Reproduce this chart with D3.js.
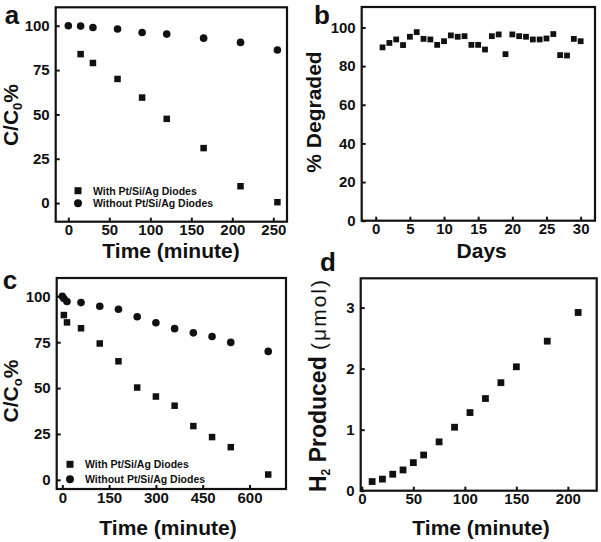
<!DOCTYPE html>
<html><head><meta charset="utf-8">
<script src="https://cdn.jsdelivr.net/npm/d3@7"></script>
<style>body{margin:0;background:#fff}svg{display:block}text{font-family:"Liberation Sans",Arial,sans-serif;font-weight:bold;fill:#111}</style>
</head><body><svg id="c" width="601" height="542"></svg>
<script>
// Panel a
const aTimeWith = [15, 30, 60, 90, 120, 165, 210, 255];
const aWith = [84, 79, 70, 59.5, 47.5, 31, 9.5, 0.5];
const aTimeWithout = [0, 15, 30, 60, 90, 120, 165, 210, 255];
const aWithout = [100, 99.8, 99, 98.2, 96.2, 95.3, 93, 90.6, 86.3];
// Panel b
const bDays = [1,2,3,4,5,6,7,8,9,10,11,12,13,14,15,16,17,18,19,20,21,22,23,24,25,26,27,28,29,30];
const bDegraded = [89.7,92,93.8,90.9,95.2,97.6,94.1,93.8,91,92.9,95.9,95.2,95.5,91,91,88.6,95.5,96.4,86.2,96.4,95.5,95.2,93.8,93.8,94.3,96.6,85.7,85.5,94.1,92.9];
// Panel c
const cTimeWith = [5, 15, 60, 120, 180, 240, 300, 360, 420, 480, 540, 660];
const cWith = [89.8, 85.8, 82.6, 74.3, 64.6, 50.3, 45.4, 40.4, 29.3, 23.3, 17.8, 2.9];
const cTimeWithout = [0, 5, 15, 60, 120, 180, 240, 300, 360, 420, 480, 540, 660];
const cWithout = [100, 98.8, 97.2, 96.6, 94.6, 93, 88.9, 85.6, 82.4, 80.1, 78.1, 74.9, 70];
// Panel d
const dTime = [10, 20, 30, 40, 50, 60, 75, 90, 105, 120, 135, 150, 180, 210];
const dH2 = [0.15, 0.19, 0.27, 0.34, 0.46, 0.585, 0.80, 1.04, 1.28, 1.51, 1.77, 2.03, 2.45, 2.92];
// Ticks
const aXTicks = [0, 50, 100, 150, 200, 250];
const aYTicks = [0, 25, 50, 75, 100];
const bXTicks = [0, 5, 10, 15, 20, 25, 30];
const bYTicks = [0, 20, 40, 60, 80, 100];
const cXTicks = [0, 150, 300, 450, 600];
const cYTicks = [0, 25, 50, 75, 100];
const dXTicks = [0, 50, 100, 150, 200];
const dYTicks = [0, 1, 2, 3];
const legendLabels = ["With Pt/Si/Ag Diodes", "Without Pt/Si/Ag Diodes"];

const svg = d3.select("#c");

function panel(o) {
  const x = d3.scaleLinear().domain(o.xd).range([o.l, o.r]);
  const y = d3.scaleLinear().domain(o.yd).range([o.b, o.t]);
  const g = svg.append("g");
  const gx = g.append("g").attr("transform", `translate(0,${o.b})`)
    .call(d3.axisBottom(x).tickValues(o.xt).tickSize(-4).tickPadding(3).tickFormat(d3.format("d")));
  const gy = g.append("g").attr("transform", `translate(${o.l},0)`)
    .call(d3.axisLeft(y).tickValues(o.yt).tickSize(-4).tickPadding(6).tickFormat(d3.format("d")));
  [gx, gy].forEach(a => {
    a.select(".domain").remove();
    a.selectAll(".tick line").attr("stroke", "#111").attr("stroke-width", 2);
    a.selectAll(".tick text").style("font-size", "15px").style("font-family", '"Liberation Sans",Arial,sans-serif').style("font-weight", "bold").attr("fill", "#111");
  });
  gx.selectAll(".tick text").attr("dy", "0.71em");
  g.append("rect").attr("x", o.l).attr("y", o.t).attr("width", o.r - o.l).attr("height", o.b - o.t)
    .attr("fill", "none").attr("stroke", "#111").attr("stroke-width", 2.2);
  return {x, y, g};
}

function squares(p, xs, ys, s) {
  p.g.selectAll(null).data(xs).enter().append("rect")
    .attr("x", (d) => p.x(d) - s / 2).attr("y", (d, i) => p.y(ys[i]) - s / 2)
    .attr("width", s).attr("height", s).attr("fill", "#111");
}
function circles(p, xs, ys, r) {
  p.g.selectAll(null).data(xs).enter().append("circle")
    .attr("cx", (d) => p.x(d)).attr("cy", (d, i) => p.y(ys[i])).attr("r", r).attr("fill", "#111");
}
function label(txt, x, y, size, rot, anchor) {
  const t = svg.append("text").attr("x", x).attr("y", y).attr("font-size", size)
    .attr("text-anchor", anchor || "middle");
  if (txt) t.text(txt);
  if (rot) t.attr("transform", `rotate(-90,${x},${y})`);
  return t;
}
function legend(xm, y1, y2, xt) {
  svg.append("rect").attr("x", xm - 3.5).attr("y", y1 - 3.5).attr("width", 7).attr("height", 7).attr("fill", "#111");
  svg.append("circle").attr("cx", xm).attr("cy", y2).attr("r", 4).attr("fill", "#111");
  svg.append("text").attr("x", xt).attr("y", y1 + 3.8).attr("font-size", 10.5).text(legendLabels[0]);
  svg.append("text").attr("x", xt).attr("y", y2 + 3.8).attr("font-size", 10.5).text(legendLabels[1]);
}

// a
const pa = panel({xd: [-15.4, 266.7], yd: [-10.5, 110.4], l: 55.7, r: 287, t: 7.3, b: 221.7, xt: aXTicks, yt: aYTicks});
squares(pa, aTimeWith, aWith, 6.5);
circles(pa, aTimeWithout, aWithout, 3.8);
legend(78, 190.7, 203.3, 93);
label("Time (minute)", 171, 258, 21);
{ const t = label("", 18, 115, 21, true); t.append("tspan").text("C/C");
  t.append("tspan").attr("font-size", 13).attr("dy", 4).text("0");
  t.append("tspan").attr("dy", -4).text("%"); }
label("a", 12, 24, 26);

// b
const pb = panel({xd: [-2.05, 32.1], yd: [0, 110.6], l: 361.7, r: 595, t: 7, b: 220.7, xt: bXTicks, yt: bYTicks});
squares(pb, bDays, bDegraded, 5.8);
label("Days", 481.7, 258, 21);
label("% Degraded", 321, 112, 21, true);
label("b", 322, 24, 26);

// c
const pc = panel({xd: [-18, 717], yd: [-5, 110], l: 56.7, r: 286, t: 278, b: 489, xt: cXTicks, yt: cYTicks});
squares(pc, cTimeWith, cWith, 6.5);
circles(pc, cTimeWithout, cWithout, 3.8);
legend(70, 464.3, 479.3, 85);
label("Time (minute)", 168, 535, 21);
{ const t = label("", 18, 391, 21, true); t.append("tspan").text("C/C");
  t.append("tspan").attr("font-size", 13).attr("dy", 4).text("o");
  t.append("tspan").attr("dy", -4).text("%"); }
label("c", 10, 289, 26);

// d
const pd = panel({xd: [-1.1, 228], yd: [0, 3.48], l: 360.7, r: 596.7, t: 278.3, b: 490.7, xt: dXTicks, yt: dYTicks});
squares(pd, dTime, dH2, 6.8);
label("Time (minute)", 481, 535, 21);
{ const t = label("", 326, 385, 23, true); t.append("tspan").text("H");
  t.append("tspan").attr("font-size", 12).attr("dy", 4).text("2");
  t.append("tspan").attr("dy", -4).text(" Produced ");
  t.append("tspan").attr("font-size", 21).style("font-weight", "normal").attr("letter-spacing", 2).text("(μmol)"); }
label("d", 328, 271, 26);
</script></body></html>
